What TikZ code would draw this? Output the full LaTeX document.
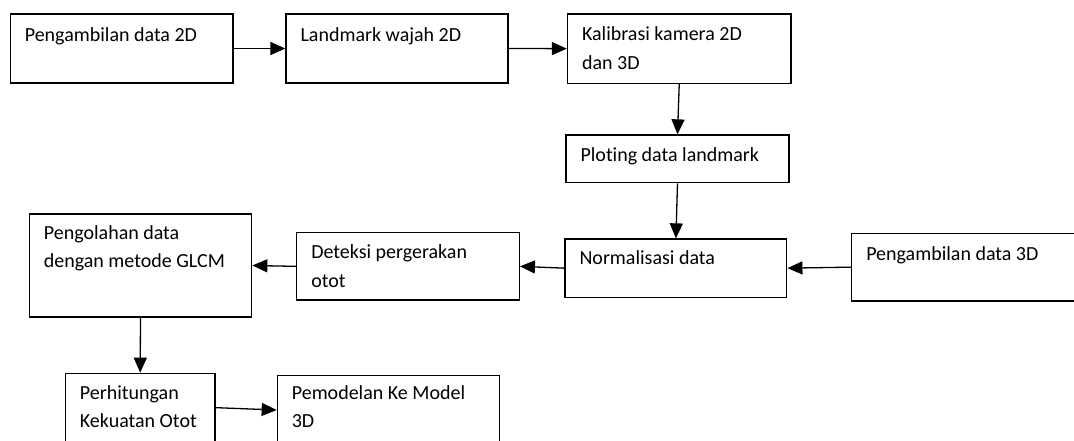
\documentclass[tikz,border=0pt]{standalone}
\usepackage{fontspec}
\setmainfont[Ligatures=NoCommon]{Carlito}
\usetikzlibrary{arrows.meta,fit,calc}
\tikzset{
  box/.style={draw=black, line width=1.3pt, inner sep=0pt, rectangle},
  txt/.style={inner sep=0pt, anchor=base west, align=left, font=\fontsize{20}{28.5}\selectfont, text=black},
  arr/.style={draw=black, line width=1.3pt, -{Triangle[length=15pt,width=13pt]}},
}
\begin{document}
\begin{tikzpicture}[x=1pt,y=-1pt]
\useasboundingbox (0,0) rectangle (1074,440);
\fill[white] (0,0) rectangle (1074,440);
\clip (0,0) rectangle (1074,440);
% boxes
\node[box, fit={(10.3,14) (233,83)}] (b1) {};
\node[box, fit={(286,14) (508,83)}] (b2) {};
\node[box, fit={(567.5,14) (791,83.3)}] (b3) {};
\node[box, fit={(566,135) (789,182.7)}] (b4) {};
\node[box, fit={(565,239) (786.8,297.3)}] (b5) {};
\node[box, fit={(851.7,233.3) (1090,301)}] (b6) {};
\node[box, fit={(29.3,214) (251.7,317)}] (b7) {};
\node[box, fit={(296.7,232.7) (519.3,300)}] (b8) {};
\node[box, fit={(65.4,373.3) (215,442)}] (b9) {};
\node[box, fit={(277.3,375.7) (499.3,444.3)}] (b10) {};
% texts (base anchor = last line baseline; two-line nodes shifted by one line)
\node[txt] (t1) at ($(b1.north west)+(15,28)$) {Pengambilan data 2D};
\node[txt] (t2) at ($(b2.north west)+(15,28)$) {Landmark wajah 2D};
\node[txt] (t3) at ($(b3.north west)+(15,56)$) {Kalibrasi kamera 2D\\dan 3D};
\node[txt] (t4) at ($(b4.north west)+(15,27)$) {Ploting data landmark};
\node[txt] (t5) at ($(b5.north west)+(15,26.5)$) {Normalisasi data};
\node[txt] (t6) at ($(b6.north west)+(15,27.4)$) {Pengambilan data 3D};
\node[txt] (t7) at ($(b7.north west)+(15,54.5)$) {Pengolahan data\\dengan metode GLCM};
\node[txt] (t8) at ($(b8.north west)+(15,55)$) {Deteksi pergerakan\\otot};
\node[txt] (t9) at ($(b9.north west)+(15,55)$) {Perhitungan\\Kekuatan Otot};
\node[txt] (t10) at ($(b10.north west)+(15,52.6)$) {Pemodelan Ke Model\\3D};
% connectors
\draw[arr] (b1.east) -- (b2.west);
\draw[arr] (b2.east) -- (b3.west);
\draw[arr] (b3.south) -- (b4.north);
\draw[arr] (b4.south) -- (b5.north);
\draw[arr] (b6.west) -- (b5.east);
\draw[arr] (b5.west) -- (b8.east);
\draw[arr] (b8.west) -- (b7.east);
\draw[arr] (b7.south) -- (b9.north);
\draw[arr] (b9.east) -- (b10.west);
\end{tikzpicture}
\end{document}
